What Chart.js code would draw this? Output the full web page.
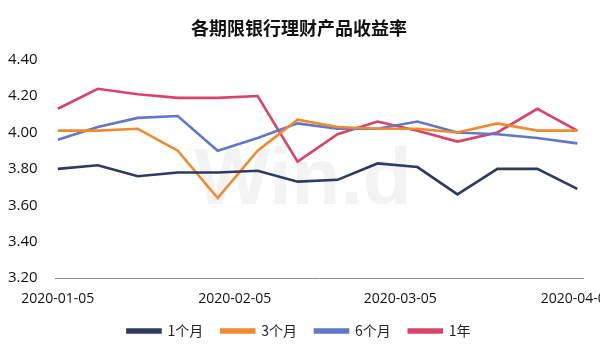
<!DOCTYPE html>
<html lang="zh">
  <head>
    <meta charset="utf-8" />
    <title>各期限银行理财产品收益率</title>
    <style>
      * {
        margin: 0;
        padding: 0;
        box-sizing: border-box;
      }
      body {
        background: #ffffff;
      }
      .wrapper {
        width: 600px;
        height: 360px;
        position: relative;
      }
    </style>
  </head>
  <body>
    <div class="wrapper">
      <canvas id="chart" width="600" height="360"></canvas>
    </div>
    <script src="https://cdn.jsdelivr.net/npm/chart.js@4.4.1/dist/chart.umd.min.js"></script>
    <script>
      // weekly observation dates
      const dates = [
        "2020-01-05", "2020-01-12", "2020-01-19", "2020-01-26", "2020-02-02",
        "2020-02-09", "2020-02-16", "2020-02-23", "2020-03-01", "2020-03-08",
        "2020-03-15", "2020-03-22", "2020-03-29", "2020-04-05",
      ];
      const tickDates = ["2020-01-05", "2020-02-05", "2020-03-05", "2020-04-05"];
      const yTicks = [3.2, 3.4, 3.6, 3.8, 4.0, 4.2, 4.4];

      const seriesNames = ["1个月", "3个月", "6个月", "1年"];
      const m1 = [3.80, 3.82, 3.76, 3.78, 3.78, 3.79, 3.73, 3.74, 3.83, 3.81, 3.66, 3.80, 3.80, 3.69];
      const m3 = [4.01, 4.01, 4.02, 3.90, 3.64, 3.90, 4.07, 4.03, 4.02, 4.02, 4.00, 4.05, 4.01, 4.01];
      const m6 = [3.96, 4.03, 4.08, 4.09, 3.90, 3.97, 4.05, 4.02, 4.02, 4.06, 4.00, 3.99, 3.97, 3.94];
      const y1 = [4.13, 4.24, 4.21, 4.19, 4.19, 4.20, 3.84, 3.99, 4.06, 4.01, 3.95, 4.00, 4.13, 4.01];
      const colors = ["#2f3a64", "#ef8b2f", "#6277c8", "#d9426b"];

      const day0 = Date.UTC(2020, 0, 5);
      const toDay = (s) => {
        const p = s.split("-").map(Number);
        return Math.round((Date.UTC(p[0], p[1] - 1, p[2]) - day0) / 86400000);
      };
      const xs = dates.map(toDay);
      const tickDays = tickDates.map(toDay);

      const makeSet = (i, vals) => ({
        label: seriesNames[i],
        data: vals.map((v, k) => ({ x: xs[k], y: v })),
        borderColor: colors[i],
        backgroundColor: colors[i],
        borderWidth: 2.6,
        pointRadius: 0,
        tension: 0,
      });

      // faint Wind watermark behind the lines
      const watermark = {
        id: "watermark",
        beforeDatasetsDraw(chart) {
          const ctx = chart.ctx;
          ctx.save();
          ctx.font = "bold 80px 'Liberation Sans', sans-serif";
          ctx.fillStyle = "#f3f3f3";
          ctx.textAlign = "center";
          ctx.textBaseline = "alphabetic";
          ctx.fillText("Win.d", 303, 204);
          ctx.restore();
        },
      };

      new Chart(document.getElementById("chart"), {
        type: "line",
        data: {
          datasets: [makeSet(0, m1), makeSet(1, m3), makeSet(2, m6), makeSet(3, y1)],
        },
        plugins: [watermark],
        options: {
          responsive: false,
          animation: false,
          devicePixelRatio: 1,
          layout: { padding: { left: 8, right: 10, top: 0, bottom: 12 } },
          plugins: {
            tooltip: { enabled: false },
            title: {
              display: true,
              text: "各期限银行理财产品收益率",
              color: "#111111",
              font: { family: "'Noto Sans CJK SC', sans-serif", size: 18, weight: "bold" },
              padding: { top: 17, bottom: 21 },
            },
            legend: {
              position: "bottom",
              labels: {
                boxWidth: 33,
                boxHeight: 3,
                padding: 18,
                color: "#222222",
                font: { family: "'Noto Sans CJK SC', sans-serif", size: 14 },
              },
            },
          },
          scales: {
            x: {
              type: "linear",
              min: -0.5,
              max: 92,
              afterBuildTicks: (s) => {
                s.ticks = tickDays.map((v) => ({ value: v }));
              },
              afterFit: (s) => {
                // keep the plot edge at 583 and let the last date run off the canvas
                s.paddingRight = 17;
                s.height = s.height - 13;
              },
              grid: { display: false, drawTicks: false },
              border: { display: true, color: "#8c8c8c", width: 1 },
              ticks: {
                padding: 12,
                maxRotation: 0,
                autoSkip: false,
                color: "#111111",
                font: { family: "'Open Sans', sans-serif", size: 14 },
                callback: (v) => tickDates[tickDays.indexOf(v)] || "",
              },
            },
            y: {
              min: 3.2,
              max: 4.4,
              afterBuildTicks: (s) => {
                s.ticks = yTicks.map((v) => ({ value: v }));
              },
              afterFit: (s) => {
                s.width = 47;
              },
              grid: { display: false, drawTicks: false },
              border: { display: false },
              ticks: {
                crossAlign: "far",
                color: "#111111",
                font: { family: "'Open Sans', sans-serif", size: 15 },
                callback: (v) => Number(v).toFixed(2),
              },
            },
          },
        },
      });
    </script>
  </body>
</html>
